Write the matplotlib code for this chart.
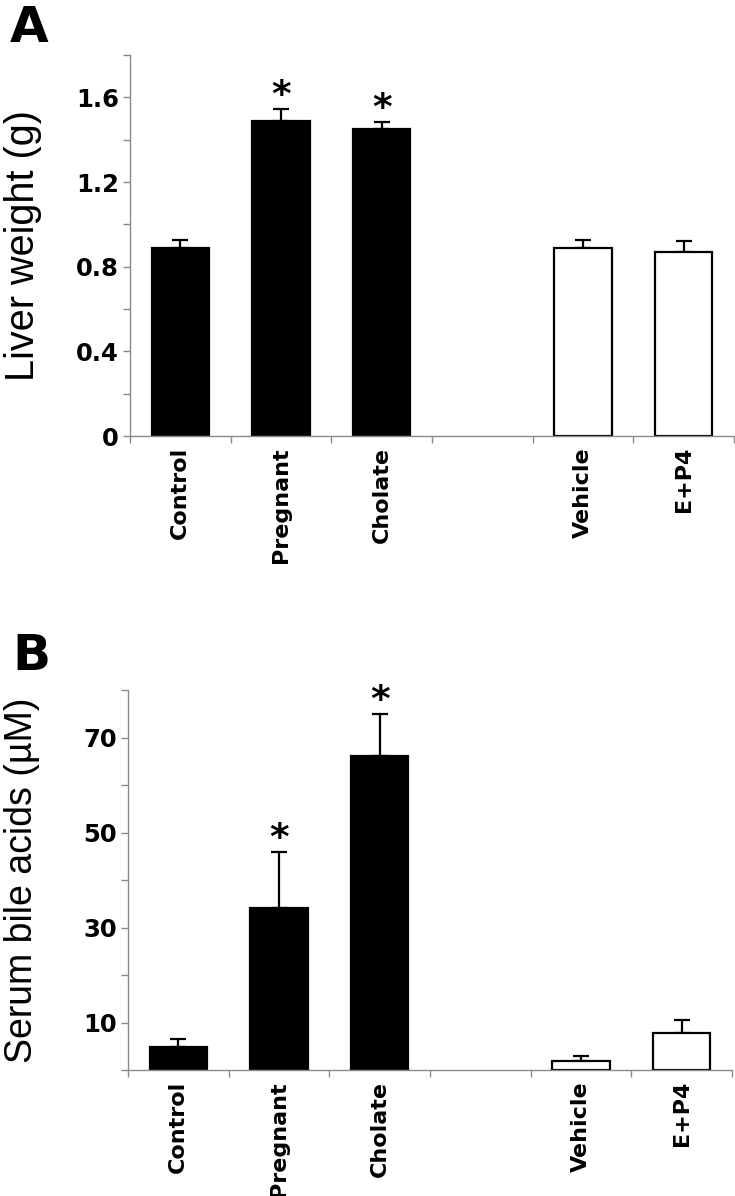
import matplotlib
matplotlib.use('Agg')
import matplotlib.pyplot as plt

groups = ['Control', 'Pregnant', 'Cholate', 'Vehicle', 'E+P4']
xpos = [0, 1, 2, 4, 5]
colors = ['black', 'black', 'black', 'white', 'white']
signif = [False, True, True, False, False]

liver = [0.89, 1.49, 1.45, 0.89, 0.87]
liver_err = [0.035, 0.055, 0.035, 0.035, 0.05]

bile = [4.8, 34.1, 66.1, 2.0, 7.8]
bile_err = [1.8, 11.9, 8.9, 0.95, 2.8]

spine_col = '#8a8a8a'


def panel(ax, vals, errs, major, minor, ylim, ylabel, label_size, fmt):
    ax.bar(xpos, vals, width=0.57, color=colors, edgecolor='black', linewidth=1.6, zorder=2)
    ax.errorbar(xpos, vals, yerr=[[0] * len(vals), errs], fmt='none', ecolor='black',
                elinewidth=1.6, capsize=6, capthick=1.6, zorder=1)
    for x, v, e, s in zip(xpos, vals, errs, signif):
        if s:
            ax.annotate('*', xy=(x, v + e), xytext=(0, 2), textcoords='offset points',
                        ha='center', va='baseline', fontsize=27, fontweight='bold',
                        family='DejaVu Sans')
    ax.set_xlim(-0.5, 5.5)
    ax.set_ylim(*ylim)
    ax.spines['top'].set_visible(False)
    ax.spines['right'].set_visible(False)
    for sp in ['left', 'bottom']:
        ax.spines[sp].set_color(spine_col)
        ax.spines[sp].set_linewidth(1.0)
    ax.set_xticks(xpos)
    ax.set_xticklabels(groups, rotation=90, fontsize=16, fontweight='bold',
                       family='DejaVu Sans', va='top')
    ax.set_xticks([i - 0.5 for i in range(7)], minor=True)
    ax.tick_params(axis='x', which='major', length=0, pad=8)
    ax.tick_params(axis='x', which='minor', length=5, color=spine_col, width=1.0)
    ax.set_yticks(major)
    ax.set_yticklabels([fmt(v) for v in major], fontsize=17.5, fontweight='bold',
                       family='DejaVu Sans')
    ax.set_yticks(minor, minor=True)
    ax.tick_params(axis='y', which='both', length=5, color=spine_col, width=1.0, pad=3)
    ax.set_ylabel(ylabel, fontsize=label_size, family='Liberation Sans')
    ax.yaxis.set_label_coords(-0.145, 0.5)


fig = plt.figure(figsize=(7.35, 11.96), dpi=100)
axA = fig.add_axes([130 / 735, 1 - 436 / 1196, 604 / 735, 381 / 1196])
axB = fig.add_axes([128 / 735, 1 - 1070 / 1196, 604 / 735, 380 / 1196])

panel(axA, liver, liver_err, [0, 0.4, 0.8, 1.2, 1.6], [0.2, 0.6, 1.0, 1.4, 1.8],
      (0, 1.8), 'Liver weight (g)', 28.5,
      lambda v: '0' if v == 0 else '%.1f' % v)
panel(axB, bile, bile_err, [10, 30, 50, 70], [0, 20, 40, 60, 80],
      (0, 80), 'Serum bile acids (\u00b5M)', 27, lambda v: '%d' % v)

fig.text(10 / 735, 1 - 42 / 1196, 'A', fontsize=36, fontweight='bold',
         family='DejaVu Sans', va='baseline')
fig.text(12 / 735, 1 - 670 / 1196, 'B', fontsize=36, fontweight='bold',
         family='DejaVu Sans', va='baseline')

fig.savefig('out.png', dpi=100)
